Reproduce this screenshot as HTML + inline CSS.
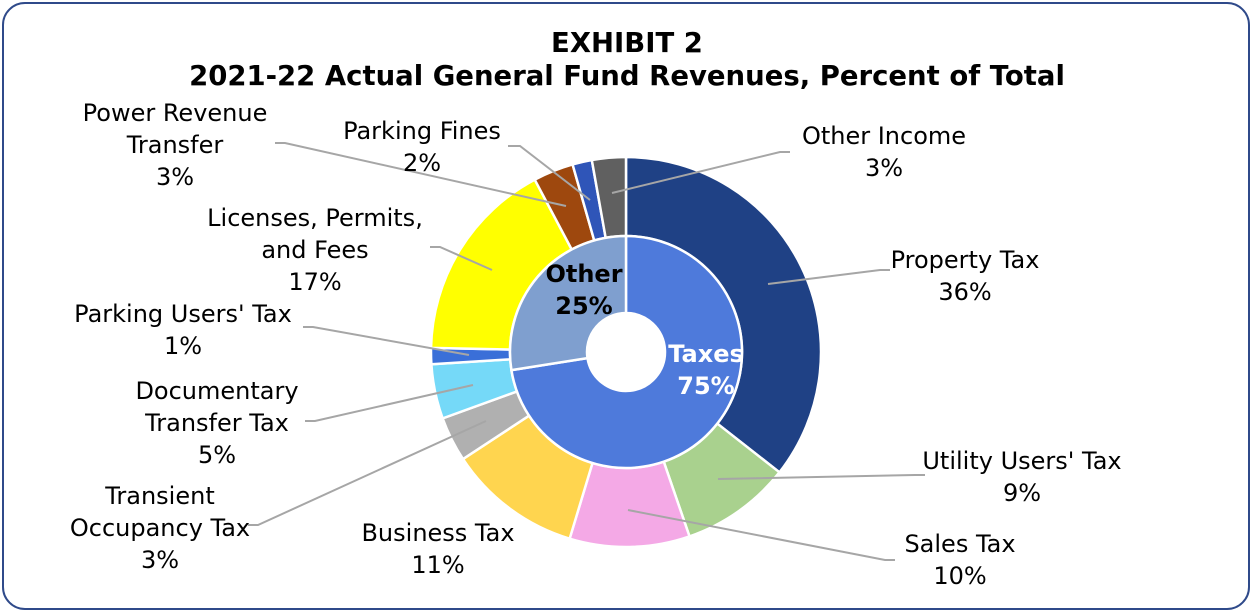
<!DOCTYPE html>
<html><head><meta charset="utf-8">
<style>
html,body{margin:0;padding:0;background:#fff;}
svg{display:block;}
text{font-family:"DejaVu Sans","Liberation Sans",sans-serif;font-size:24px;fill:#000;}
.t{font-weight:bold;font-size:27.5px;}
</style></head><body>
<svg id="s" width="1253" height="613" viewBox="0 0 1253 613">
<rect x="3" y="3" width="1246" height="606" rx="22" ry="22" fill="#fff" stroke="#2F4A8A" stroke-width="2"/>
<text class="t" x="627" y="52" text-anchor="middle">EXHIBIT 2</text>
<text class="t" x="627" y="85" text-anchor="middle">2021-22 Actual General Fund Revenues, Percent of Total</text>
<g id="pie"></g>
<g stroke="#A6A6A6" stroke-width="2" fill="none">
<polyline points="612,193 780,152 790,152"/>
<polyline points="768,284 880,270 890,270"/>
<polyline points="718,479 915,475 925,475"/>
<polyline points="628,510 885,560 895,560"/>
<polyline points="590,200 520,146 508,146"/>
<polyline points="566,206 285,143 275,143"/>
<polyline points="492,270 440,247 430,247"/>
<polyline points="469,355 313,327 303,327"/>
<polyline points="473,385 315,421 305,421"/>
<polyline points="486,421 258,525 248,525"/>
</g>
<g text-anchor="middle">
<text x="884" y="144">Other Income</text><text x="884" y="176">3%</text>
<text x="965" y="268">Property Tax</text><text x="965" y="300">36%</text>
<text x="1022" y="469">Utility Users' Tax</text><text x="1022" y="501">9%</text>
<text x="960" y="552">Sales Tax</text><text x="960" y="584">10%</text>
<text x="422" y="139">Parking Fines</text><text x="422" y="171">2%</text>
<text x="175" y="121">Power Revenue</text><text x="175" y="153">Transfer</text><text x="175" y="185">3%</text>
<text x="315" y="226">Licenses, Permits,</text><text x="315" y="258">and Fees</text><text x="315" y="290">17%</text>
<text x="183" y="322">Parking Users' Tax</text><text x="183" y="354">1%</text>
<text x="217" y="399">Documentary</text><text x="217" y="431">Transfer Tax</text><text x="217" y="463">5%</text>
<text x="160" y="504">Transient</text><text x="160" y="536">Occupancy Tax</text><text x="160" y="568">3%</text>
<text x="438" y="541">Business Tax</text><text x="438" y="573">11%</text>
</g>
<g text-anchor="middle">
<text x="584" y="282" style="font-weight:bold;font-size:24px">Other</text>
<text x="584" y="314" style="font-weight:bold;font-size:24px">25%</text>
<text x="706" y="362" style="font-weight:bold;font-size:24px;fill:#fff">Taxes</text>
<text x="706" y="394" style="font-weight:bold;font-size:24px;fill:#fff">75%</text>
</g>
</svg>
<script>
var cx=626,cy=352;
function P(r,a){a=a*Math.PI/180;return [cx+r*Math.sin(a),cy-r*Math.cos(a)];}
function seg(r0,r1,a0,a1,c){
 var l=(a1-a0)>180?1:0,p1=P(r1,a0),p2=P(r1,a1),p3=P(r0,a1),p4=P(r0,a0);
 return '<path d="M'+p1+' A'+r1+','+r1+' 0 '+l+' 1 '+p2+' L'+p3+' A'+r0+','+r0+' 0 '+l+' 0 '+p4+' Z" fill="'+c+'" stroke="#fff" stroke-width="2.5"/>';
}
var outer=[[0,128.1,'#1F4185'],[128.1,161,'#A9D18E'],[161,196.8,'#F4A9E6'],[196.8,236.7,'#FFD54F'],[236.7,250.1,'#B0B0B0'],[250.1,266.4,'#75D9F8'],[266.4,271.2,'#3A6FD8'],[271.2,332.1,'#FFFF00'],[332.1,344.1,'#9E480E'],[344.1,349.9,'#2F55B8'],[349.9,360,'#606060']];
var h='';
outer.forEach(function(o){h+=seg(116,195,o[0],o[1],o[2]);});
h+=seg(39,116,0,261,'#4E7ADB');
h+=seg(39,116,261,360,'#7F9FCF');
document.getElementById('pie').innerHTML=h;
</script>
</body></html>
